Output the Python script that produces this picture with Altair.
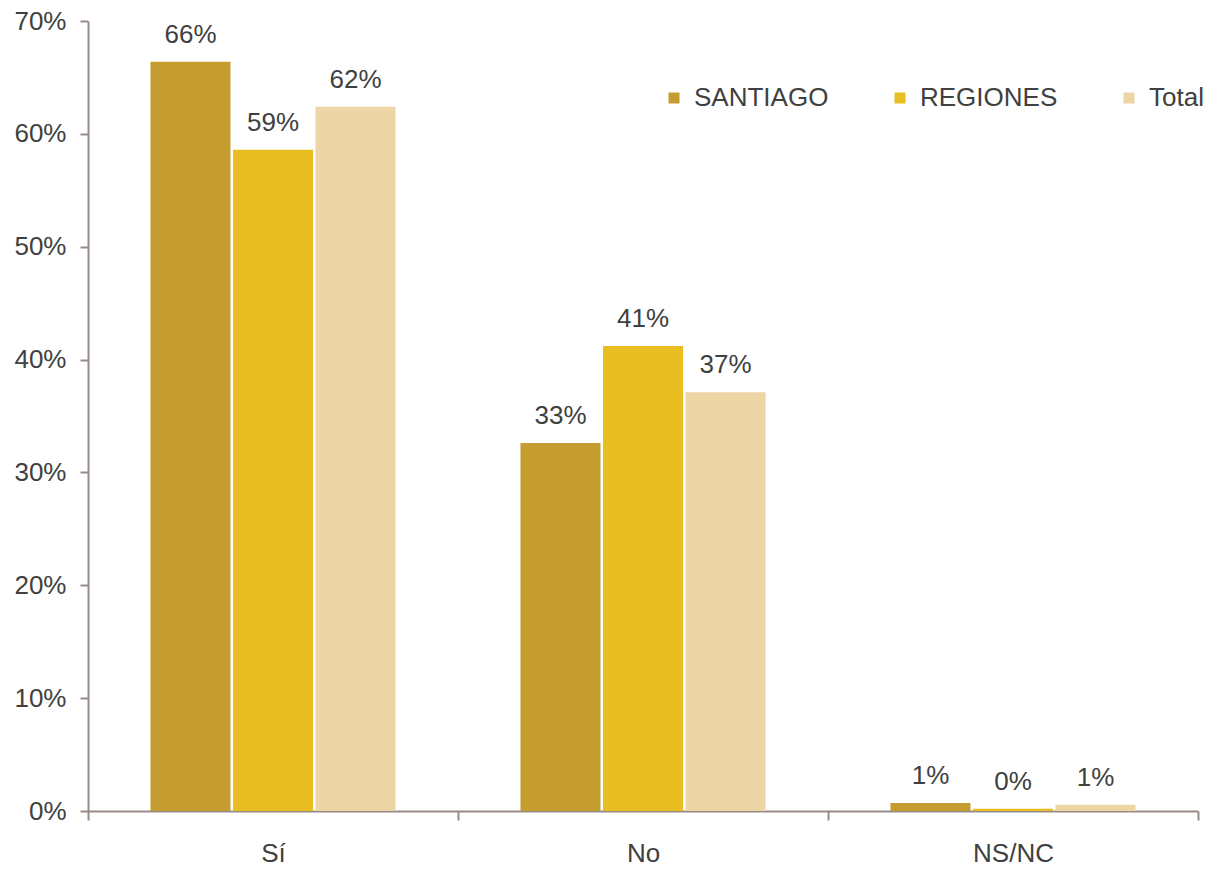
import altair as alt
import pandas as pd

categories = ["Sí", "No", "NS/NC"]
series = ["SANTIAGO", "REGIONES", "Total"]
santiago = [0.664, 0.326, 0.007]
regiones = [0.586, 0.412, 0.002]
total = [0.624, 0.371, 0.0055]
colors = ["#C49C30", "#E8BE22", "#EED5A6"]
y_ticks = [0, 0.1, 0.2, 0.3, 0.4, 0.5, 0.6, 0.7]

rows = []
for s, vals in zip(series, [santiago, regiones, total]):
    for c, v in zip(categories, vals):
        rows.append({"cat": c, "serie": s, "val": v})
df = pd.DataFrame(rows)

FONT = "Liberation Sans"
TXT = "#404040"
AX = "#988B87"

x = alt.X("cat:N", sort=categories, title=None,
          scale=alt.Scale(paddingInner=0, paddingOuter=0),
          axis=alt.Axis(labelAngle=0, tickBand="extent", tickSize=9, labelPadding=20,
                        labelFontSize=26, labelColor=TXT, labelFont=FONT,
                        domainColor=AX, domainWidth=2, tickColor=AX, tickWidth=2))
xo = alt.XOffset("serie:N", sort=series,
                 scale=alt.Scale(paddingInner=0.03, paddingOuter=0.757))
y = alt.Y("val:Q", title=None,
          scale=alt.Scale(domain=[0, 0.7], nice=False),
          axis=alt.Axis(values=y_ticks, format=".0%", grid=False, tickSize=8, labelPadding=14,
                        labelFontSize=26, labelColor=TXT, labelFont=FONT,
                        domainColor=AX, domainWidth=2, tickColor=AX, tickWidth=2))

color = alt.Color("serie:N", sort=series,
                  scale=alt.Scale(domain=series, range=colors),
                  legend=alt.Legend(title=None, orient="none", direction="horizontal",
                                    legendX=573, legendY=64, symbolType="square",
                                    symbolSize=121, symbolStrokeWidth=0,
                                    labelFontSize=26, labelColor=TXT, labelFont=FONT,
                                    labelOffset=7, columnPadding=58, gridAlign="each"))

bars = alt.Chart(df).mark_bar().encode(x=x, xOffset=xo, y=y, color=color)
labels = alt.Chart(df).mark_text(baseline="alphabetic", dy=-19, fontSize=26,
                                 font=FONT, color=TXT).encode(
    x=x, xOffset=xo, y=y, text=alt.Text("val:Q", format=".0%"))

chart = (bars + labels).properties(
    width=1110, height=790,
    autosize=alt.AutoSizeParams(type="none"),
    padding={"left": 80, "top": 13, "right": 16, "bottom": 57},
).configure_view(stroke=None)

chart.save("out.html", embed_options={"renderer": "svg", "actions": False})
